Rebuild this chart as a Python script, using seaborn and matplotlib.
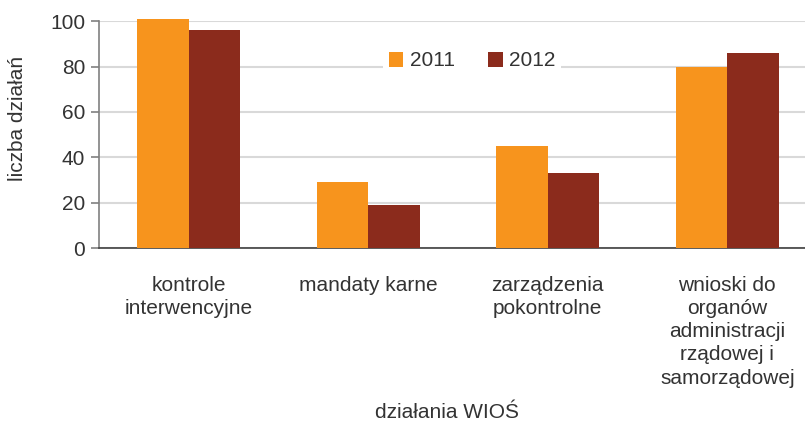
import matplotlib
matplotlib.use("Agg")
import matplotlib.pyplot as plt
import seaborn as sns
import pandas as pd
import numpy as np

categories = ["kontrole\ninterwencyjne", "mandaty karne", "zarządzenia\npokontrolne",
              "wnioski do\norganów\nadministracji\nrządowej i\nsamorządowej"]
years = ["2011", "2012"]
values_2011 = [101, 29, 45, 80]
values_2012 = [96, 19, 33, 86]
colors = ["#F7941D", "#8B2B1C"]

df = pd.DataFrame({
    "kategoria": categories * 2,
    "rok": [years[0]] * 4 + [years[1]] * 4,
    "liczba": values_2011 + values_2012,
})

sns.set_theme(style="white")
plt.rcParams["font.family"] = ["Liberation Sans", "DejaVu Sans"]
text_color = "#333333"
fs = 15

fig = plt.figure(figsize=(8.05, 4.25), dpi=100)
ax = fig.add_axes([99 / 805, 1 - 248 / 425, 718 / 805, 226.7 / 425])

sns.barplot(data=df, x="kategoria", y="liczba", hue="rok", palette=colors,
            width=0.575, saturation=1, ax=ax, zorder=3)
for p in ax.patches:
    p.set_clip_on(False)
    p.set_edgecolor("none")

ax.set_ylim(0, 100)
ax.set_xlim(-0.5, 3.5)
ax.set_yticks([0, 20, 40, 60, 80, 100])
ax.yaxis.grid(True, color="#d9d9d9", linewidth=1.5, zorder=0)
ax.set_axisbelow(True)

ax.set_xticks(np.arange(-0.5, 4.0, 1.0), minor=True)
ax.tick_params(axis="x", which="major", length=0, pad=20, labelsize=fs, labelcolor=text_color)
ax.tick_params(axis="x", which="minor", length=6, width=1.2, color="#606060", direction="out")
ax.tick_params(axis="y", length=6, width=1.2, color="#808080", direction="out",
               labelsize=fs, labelcolor=text_color, left=True, pad=4)
for lbl in ax.get_xticklabels():
    lbl.set_linespacing(1.28)

for s in ["top", "right"]:
    ax.spines[s].set_visible(False)
ax.spines["left"].set_color("#808080")
ax.spines["left"].set_linewidth(1.2)
ax.spines["bottom"].set_color("#404040")
ax.spines["bottom"].set_linewidth(1.2)

ax.set_xlabel("działania WIOŚ", fontsize=fs, color=text_color)
ax.xaxis.set_label_coords((447 - 99) / 718, -(403 - 248) / 226.7)
ax.set_ylabel("liczba działań", fontsize=fs, color=text_color)
ax.yaxis.set_label_coords(-(99 - 27) / 718, (248 - 118) / 226.7)

handles, labels = ax.get_legend_handles_labels()
leg = ax.legend(handles, labels, loc="center", bbox_to_anchor=(472 / 805, 1 - 61 / 425),
                bbox_transform=fig.transFigure, ncol=2, frameon=True, fancybox=False,
                edgecolor="none", facecolor="white", framealpha=1, fontsize=fs,
                handlelength=0.7, handleheight=0.7, handletextpad=0.3, columnspacing=1.6,
                borderpad=0.3, title=None)
for t in leg.get_texts():
    t.set_color(text_color)

fig.savefig("out.png", dpi=100)
